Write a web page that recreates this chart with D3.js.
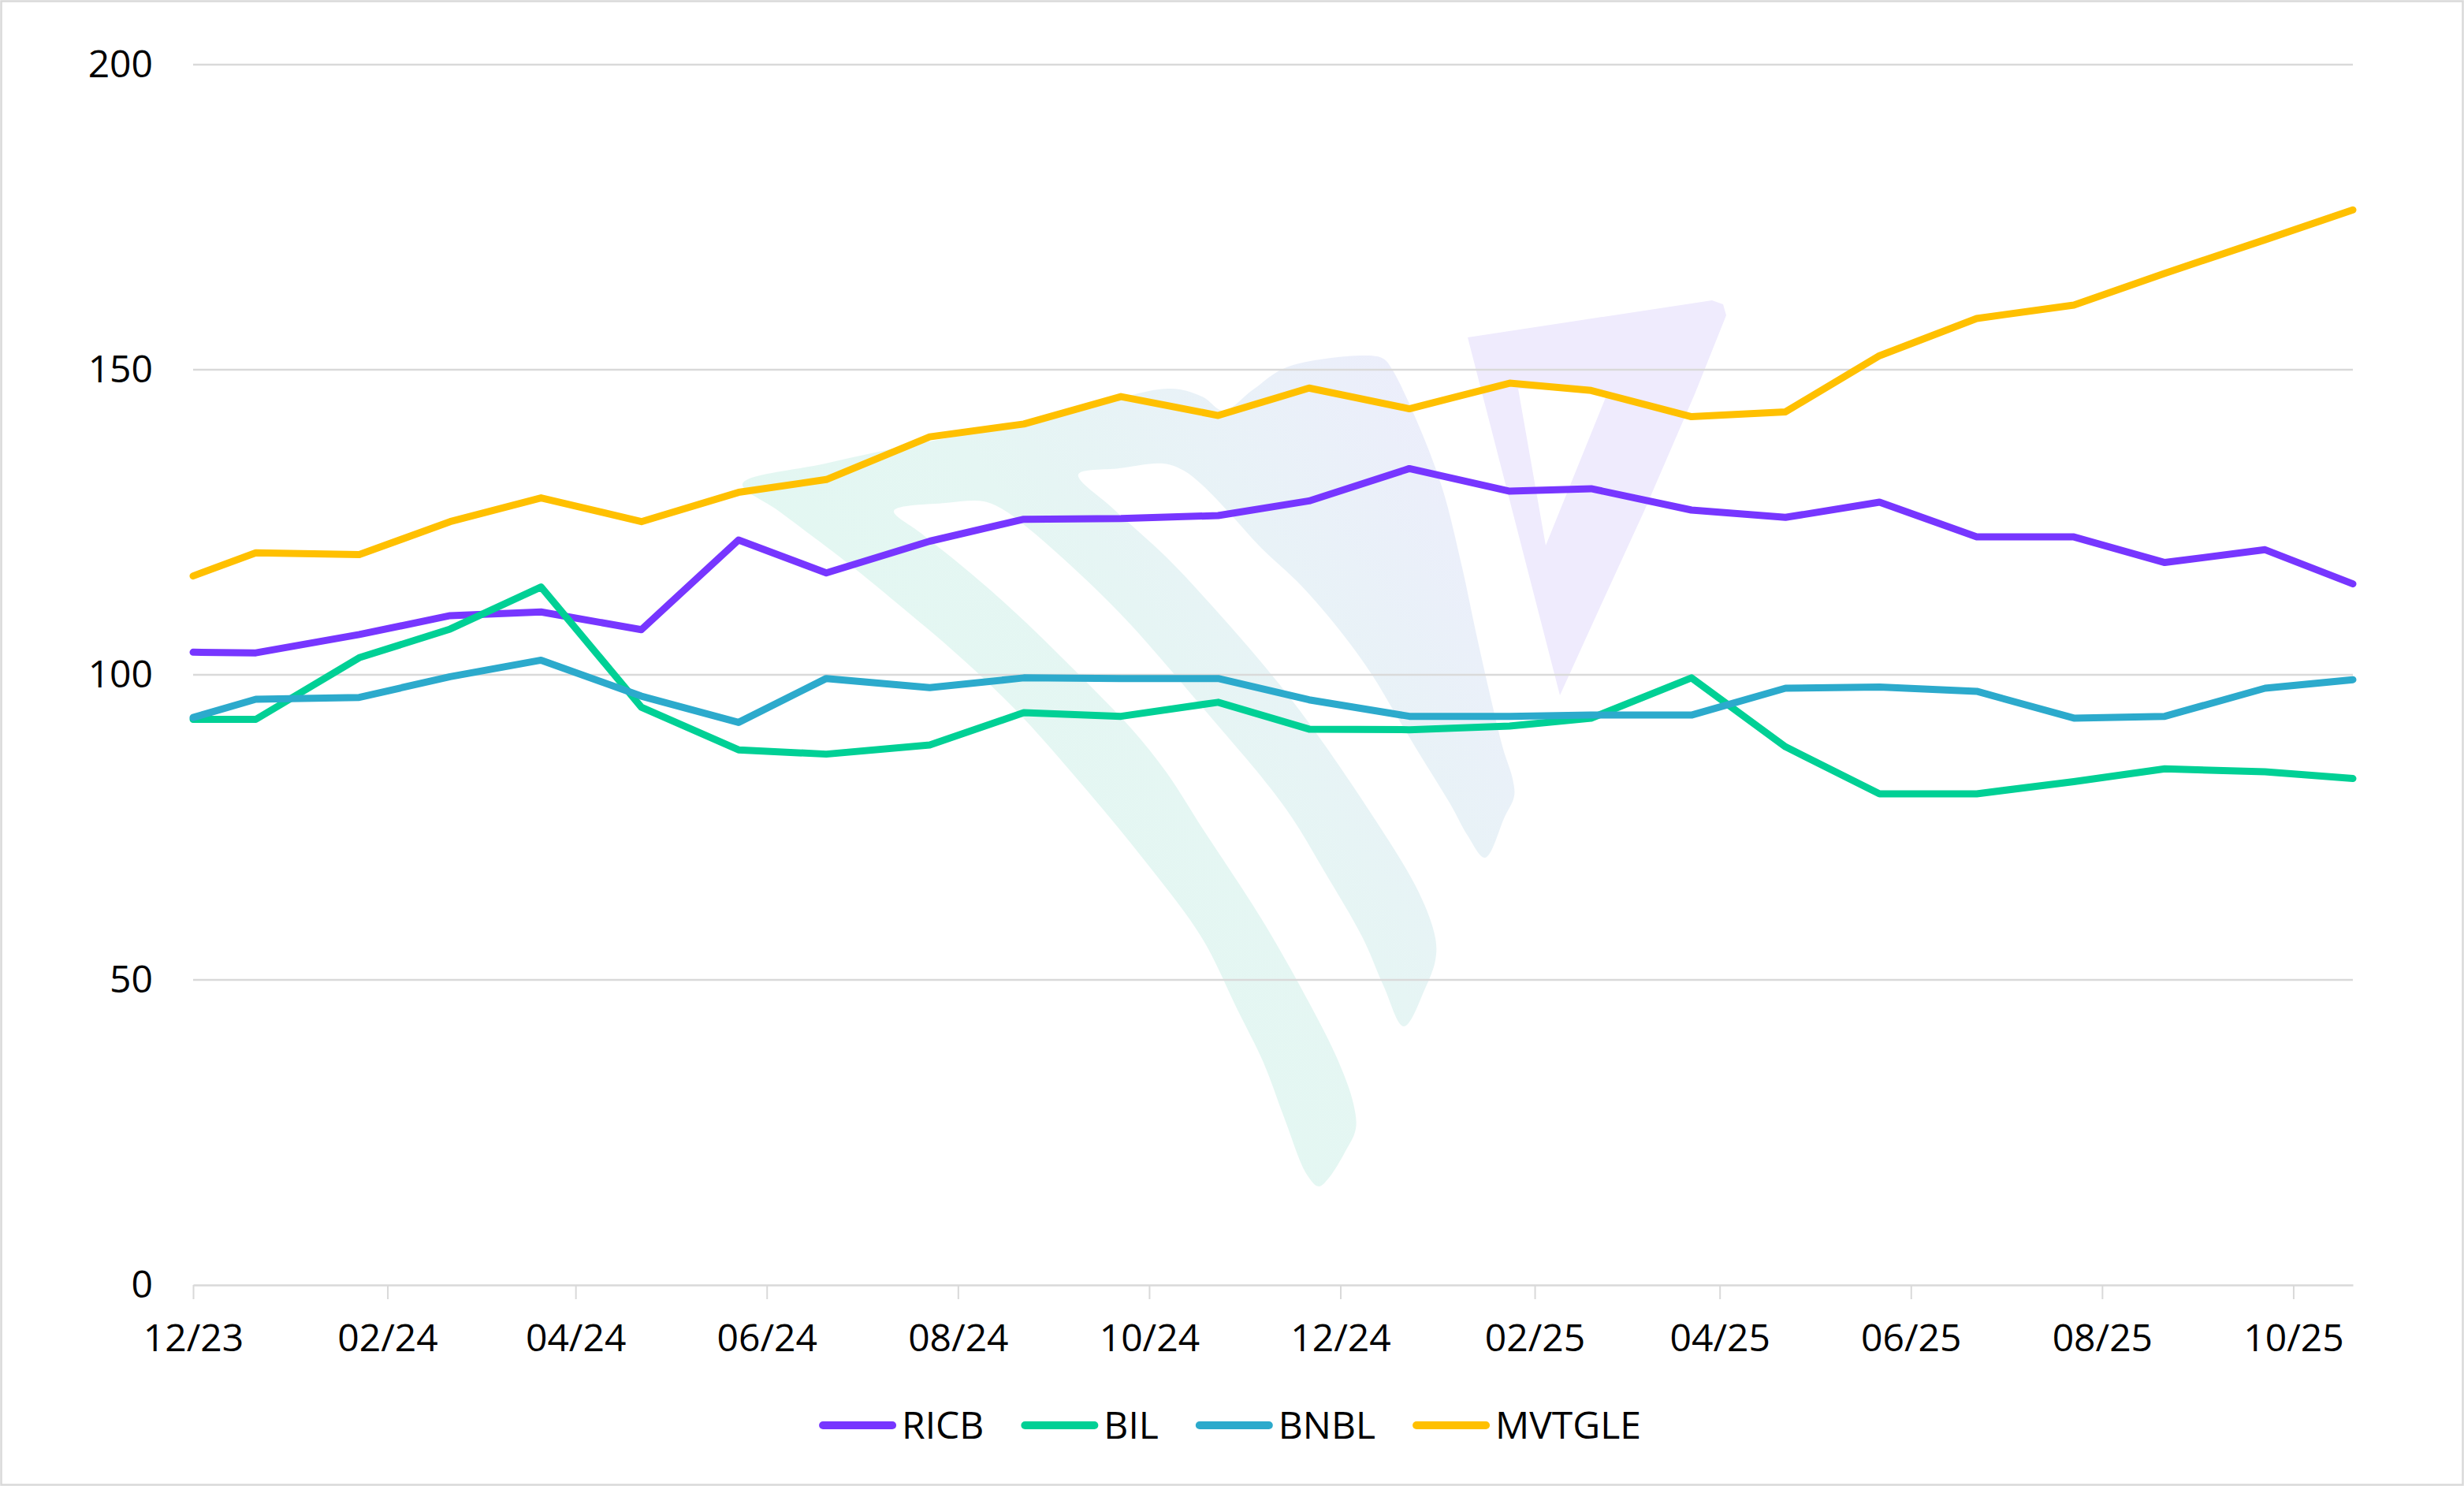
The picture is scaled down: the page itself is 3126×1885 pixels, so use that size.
<!DOCTYPE html>
<html>
<head>
<meta charset="utf-8">
<script src="https://cdn.jsdelivr.net/npm/d3@7"></script>
<style>
  body { margin: 0; background: #fff; }
  svg { display: block; font-family: "Open Sans", sans-serif; }
</style>
</head>
<body>
<svg id="chart"></svg>
<script>
// observation dates (roughly monthly)
var dates = [
  "2023-12-01", "2023-12-21", "2024-01-23", "2024-02-21", "2024-03-21", "2024-04-22",
  "2024-05-23", "2024-06-20", "2024-07-23", "2024-08-22", "2024-09-22", "2024-10-23",
  "2024-11-21", "2024-12-23", "2025-01-24", "2025-02-19", "2025-03-23", "2025-04-22",
  "2025-05-22", "2025-06-22", "2025-07-23", "2025-08-21", "2025-09-22", "2025-10-20"
];

var ricb = [103.7, 103.6, 106.6, 109.7, 110.3, 107.4, 122.1, 116.7, 121.9, 125.5, 125.6, 126.1,
            128.5, 133.8, 130.1, 130.5, 127.0, 125.8, 128.3, 122.6, 122.6, 118.4, 120.5, 114.9];
var bil = [92.7, 92.7, 102.8, 107.5, 114.4, 94.7, 87.7, 87.0, 88.5, 93.8, 93.2, 95.5,
           91.1, 91.0, 91.6, 92.9, 99.5, 88.2, 80.5, 80.5, 82.5, 84.6, 84.1, 83.0];
var bnbl = [93.0, 96.0, 96.3, 99.7, 102.4, 96.5, 92.2, 99.4, 97.9, 99.5, 99.4, 99.4,
            95.9, 93.2, 93.2, 93.4, 93.4, 97.8, 98.0, 97.3, 92.9, 93.2, 97.8, 99.2];
var mvtgle = [116.2, 120.0, 119.7, 125.1, 129.0, 125.1, 129.9, 132.0, 139.0, 141.1, 145.6, 142.5,
              147.0, 143.6, 147.8, 146.6, 142.3, 143.1, 152.3, 158.4, 160.6, 165.8, 171.3, 176.2];

var seriesNames = ["RICB", "BIL", "BNBL", "MVTGLE"];
var seriesValues = [ricb, bil, bnbl, mvtgle];
var seriesColors = ["#7736FF", "#00D095", "#2CAACC", "#FFC000"];

var yTicks = [0, 50, 100, 150, 200];
var xTicks = ["2023-12-01", "2024-02-01", "2024-04-01", "2024-06-01", "2024-08-01", "2024-10-01",
              "2024-12-01", "2025-02-01", "2025-04-01", "2025-06-01", "2025-08-01", "2025-10-01"];

var width = 3126;
var height = 1885;
var plot = { left: 245, right: 2985, top: 82, bottom: 1630 };
var fontSize = "48px";

var parse = d3.timeParse("%Y-%m-%d");
var parsedDates = dates.map(parse);

var svg =
  d3.select("#chart")
    .attr("width", width)
    .attr("height", height);

// chart border
svg.append("rect")
    .attr("x", 1.5)
    .attr("y", 1.5)
    .attr("width", width - 3)
    .attr("height", height - 3)
    .attr("fill", "#fff")
    .attr("stroke", "#D9D9D9")
    .attr("stroke-width", 2.5);

// scales
var xScale =
  d3.scaleTime()
    .domain([parsedDates[0], parsedDates[parsedDates.length - 1]])
    .range([plot.left, plot.right]);

var yScale =
  d3.scaleLinear()
    .domain([0, 200])
    .range([plot.bottom, plot.top]);

// faint logo watermark behind the plot (decoration, pixel outline)
var logoFan = [
  [942, 614], [1047, 588], [1168, 562], [1302, 537], [1413, 507], [1470, 494], [1497, 494],
  [1527, 504], [1552, 521], [1590, 494], [1632, 466], [1730, 451], [1755, 455], [1767, 470],
  [1800, 540], [1830, 620], [1855, 720], [1872, 800], [1890, 880], [1907, 950], [1919, 988],
  [1921, 1010], [1909, 1036], [1884, 1088], [1862, 1060], [1840, 1020], [1800, 955],
  [1770, 905], [1740, 855], [1700, 800], [1650, 742], [1600, 695], [1560, 651], [1525, 615],
  [1502, 597], [1476, 588], [1420, 594],
  [1368, 602], [1413, 646], [1480, 707], [1547, 779], [1600, 840], [1648, 900], [1729, 1016],
  [1800, 1132], [1821, 1190], [1821, 1218], [1808, 1254], [1781, 1302], [1755, 1250], [1729, 1190],
  [1680, 1105], [1639, 1037], [1600, 985], [1550, 926], [1480, 844], [1436, 794], [1391, 748],
  [1346, 706], [1302, 668], [1272, 646], [1248, 636], [1200, 638], [1134, 648], [1168, 676],
  [1212, 711], [1257, 749], [1302, 790], [1346, 833], [1391, 878], [1436, 925], [1480, 980],
  [1525, 1050], [1560, 1103], [1600, 1165], [1650, 1252], [1697, 1344], [1717, 1400],
  [1720, 1432], [1706, 1462], [1686, 1494], [1673, 1505], [1658, 1490], [1630, 1420],
  [1603, 1348], [1570, 1281], [1525, 1190], [1458, 1099], [1369, 991], [1288, 900],
  [1212, 828], [1145, 771], [1079, 717], [989, 649]
];
var logoV = [
  [1862, 428], [2000, 407], [2172, 381], [2186, 386], [2190, 400], [2150, 500], [2086, 648],
  [2030, 770], [1979, 882]
];
var logoVHole = [[1926, 493], [2040, 497], [1961, 692]];

var defs = svg.append("defs");
var grad =
  defs.append("linearGradient")
    .attr("id", "fanGrad")
    .attr("x1", "0.2").attr("y1", "0.7")
    .attr("x2", "0.95").attr("y2", "0.15");
grad.append("stop").attr("offset", "0").attr("stop-color", "#E2F8F1");
grad.append("stop").attr("offset", "0.45").attr("stop-color", "#E5F6F3");
grad.append("stop").attr("offset", "1").attr("stop-color", "#ECEEFB");

var logoLine =
  d3.line()
    .curve(d3.curveCatmullRomClosed.alpha(0.5));

svg.append("path")
    .attr("d", logoLine(logoFan))
    .attr("fill", "url(#fanGrad)");

var polyLine = d3.line().curve(d3.curveLinearClosed);

svg.append("path")
    .attr("d", polyLine(logoV) + polyLine(logoVHole))
    .attr("fill", "#EFEBFD")
    .attr("fill-rule", "evenodd");

// gridlines
svg.append("g")
    .classed("grid", true)
  .selectAll("line")
  .data(yTicks.filter(d => d > 0))
  .enter()
  .append("line")
    .attr("x1", plot.left)
    .attr("x2", plot.right)
    .attr("y1", d => yScale(d))
    .attr("y2", d => yScale(d))
    .attr("stroke", "#D9D9D9")
    .attr("stroke-width", 2.5);

// y-axis labels
svg.append("g")
    .classed("y-axis", true)
    .attr("transform", `translate(${plot.left - 51}, 0)`)
    .call(
      d3.axisLeft(yScale)
        .tickValues(yTicks)
        .tickSize(0)
        .tickPadding(0)
    )
    .call(g => g.select(".domain").remove())
    .call(g => g.selectAll("text")
      .attr("fill", "#000")
      .style("font-size", fontSize)
      .style("font-family", "'Open Sans', sans-serif"));

// x-axis
svg.append("g")
    .classed("x-axis", true)
    .attr("transform", `translate(0, ${plot.bottom})`)
    .call(
      d3.axisBottom(xScale)
        .tickValues(xTicks.map(parse))
        .tickFormat(d3.timeFormat("%m/%y"))
        .tickSizeInner(18)
        .tickSizeOuter(0)
        .tickPadding(32)
    )
    .call(g => g.select(".domain")
      .attr("stroke", "#D9D9D9")
      .attr("stroke-width", 2.5))
    .call(g => g.selectAll(".tick line")
      .attr("stroke", "#D9D9D9")
      .attr("stroke-width", 2))
    .call(g => g.selectAll("text")
      .attr("fill", "#000")
      .style("font-size", fontSize)
      .style("font-family", "'Open Sans', sans-serif"));

// series lines
var line =
  d3.line()
    .x((d, i) => xScale(parsedDates[i]))
    .y(d => yScale(d));

svg.append("g")
    .classed("series", true)
  .selectAll("path")
  .data(seriesValues)
  .enter()
  .append("path")
    .attr("d", d => line(d))
    .attr("fill", "none")
    .attr("stroke", (d, i) => seriesColors[i])
    .attr("stroke-width", 9)
    .attr("stroke-linejoin", "round")
    .attr("stroke-linecap", "round");

// legend
var legend =
  svg.append("g")
    .classed("legend", true)
    .attr("transform", "translate(0, 1808)");

var items =
  legend.selectAll("g")
    .data(seriesNames)
    .enter()
    .append("g");

items.append("line")
    .attr("x1", 0)
    .attr("x2", 88)
    .attr("stroke", (d, i) => seriesColors[i])
    .attr("stroke-width", 10)
    .attr("stroke-linecap", "round");

items.append("text")
    .attr("x", 100)
    .attr("dy", "0.35em")
    .style("font-size", fontSize)
    .attr("fill", "#000")
    .text(d => d);

var cursor = 0;
var positions = [];
items.each(function() {
  var w = this.querySelector("text").getComputedTextLength();
  positions.push(cursor);
  cursor += 100 + w + 52;
});
var total = cursor - 52;
var start = width / 2 - total / 2;
items.attr("transform", (d, i) => `translate(${start + positions[i]}, 0)`);
</script>
</body>
</html>
